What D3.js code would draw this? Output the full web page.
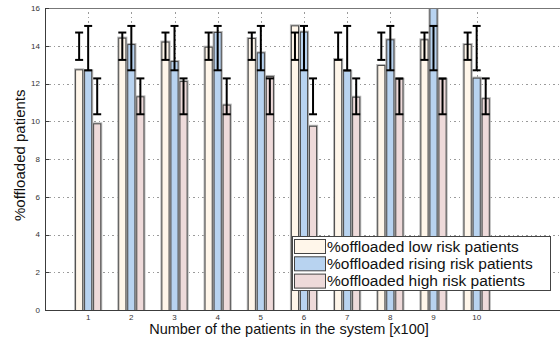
<!DOCTYPE html>
<html>
<head>
<meta charset="utf-8">
<script src="https://cdn.jsdelivr.net/npm/d3@7"></script>
<style>
  body { margin: 0; background: #fff; }
  svg { display: block; font-family: "Liberation Sans", Arial, sans-serif; }
</style>
</head>
<body>
<svg id="chart" width="560" height="338"></svg>
<script>
// data
const groups = [1, 2, 3, 4, 5, 6, 7, 8, 9, 10];
const seriesNames = ['%offloaded low risk patients', '%offloaded rising risk patients', '%offloaded high risk patients'];
const lowRisk = [12.75, 14.43, 14.22, 13.95, 14.41, 15.08, 13.3, 12.98, 14.34, 14.09];
const risingRisk = [12.7, 14.09, 13.19, 14.73, 13.65, 14.75, 12.68, 14.34, 16.6, 12.31];
const highRisk = [9.89, 11.32, 12.13, 10.88, 12.4, 9.76, 11.3, 12.25, 12.25, 11.22];
// error bar intervals [bottom, top] per series
const errLow = [13.25, 14.7];
const errRising = [12.7, 15.05];
const errHigh = [10.37, 12.27];
const yTicks = [0, 2, 4, 6, 8, 10, 12, 14, 16];

const colors = ['#fff6ea', '#b8d3f0', '#eedada'];
const values = [lowRisk, risingRisk, highRisk];
const errs = [errLow, errRising, errHigh];

const margin = { left: 45, right: -3, top: 8, bottom: 28 };
const size = { width: 560, height: 338 };

const svg = d3.select('#chart');

const x = d3.scaleLinear()
  .domain([0, 12])
  .range([margin.left, size.width - margin.right]);

const y = d3.scaleLinear()
  .domain([0, 16])
  .range([size.height - margin.bottom, margin.top]);

const sub = d3.scaleBand()
  .domain([0, 1, 2])
  .range([-14, 14])
  .padding(0.1);

svg.append('defs').append('clipPath').attr('id', 'plot')
  .append('rect')
  .attr('x', margin.left).attr('y', margin.top)
  .attr('width', size.width - margin.right - margin.left)
  .attr('height', y(0) - margin.top);

// grid
const grid = svg.append('g')
  .attr('stroke', '#9a9a9a')
  .attr('stroke-width', 1)
  .attr('stroke-dasharray', '1,3,2,3');
grid.selectAll('line.h')
  .data(yTicks.filter(d => d > 0 && d < 16))
  .enter().append('line')
  .attr('x1', margin.left).attr('x2', size.width)
  .attr('y1', d => Math.round(y(d)) + 0.5).attr('y2', d => Math.round(y(d)) + 0.5);
grid.selectAll('line.v')
  .data(groups)
  .enter().append('line')
  .attr('x1', d => Math.round(x(d)) + 0.5).attr('x2', d => Math.round(x(d)) + 0.5)
  .attr('y1', margin.top).attr('y2', y(0));

// bars
const barGroups = svg.append('g')
  .attr('clip-path', 'url(#plot)')
  .selectAll('g.bar-group')
  .data(groups)
  .enter()
  .append('g')
  .attr('transform', d => `translate(${x(d)}, 0)`);

barGroups.selectAll('rect.shadow')
  .data((d, i) => values.map((s, k) => ({ k, v: s[i] })))
  .enter()
  .append('rect')
  .attr('x', d => sub(d.k) - 1)
  .attr('y', d => y(d.v) - 1)
  .attr('width', sub.bandwidth() + 2)
  .attr('height', d => y(0) - y(d.v) + 1)
  .attr('fill', '#b5b5b5');

barGroups.selectAll('rect.bar')
  .data((d, i) => values.map((s, k) => ({ k, v: s[i] })))
  .enter()
  .append('rect')
  .attr('x', d => sub(d.k) + 0.5)
  .attr('y', d => y(d.v) + 0.5)
  .attr('width', sub.bandwidth() - 1)
  .attr('height', d => y(0) - y(d.v))
  .attr('fill', d => colors[d.k])
  .attr('stroke', '#4a4a4a')
  .attr('stroke-width', 1);

// error bars
const errG = barGroups.selectAll('g.err')
  .data(() => errs.map((e, k) => ({ k, lo: e[0], hi: e[1] })))
  .enter()
  .append('g')
  .attr('stroke', '#000')
  .attr('stroke-width', 2);
errG.append('line')
  .attr('x1', d => sub(d.k) + sub.bandwidth() / 2).attr('x2', d => sub(d.k) + sub.bandwidth() / 2)
  .attr('y1', d => y(d.lo)).attr('y2', d => y(d.hi));
errG.append('line')
  .attr('x1', d => sub(d.k) + sub.bandwidth() / 2 - 4).attr('x2', d => sub(d.k) + sub.bandwidth() / 2 + 4)
  .attr('y1', d => y(d.lo)).attr('y2', d => y(d.lo));
errG.append('line')
  .attr('x1', d => sub(d.k) + sub.bandwidth() / 2 - 4).attr('x2', d => sub(d.k) + sub.bandwidth() / 2 + 4)
  .attr('y1', d => y(d.hi)).attr('y2', d => y(d.hi));

// axes box
const axisColor = '#3c3c3c';
svg.append('line')
  .attr('x1', margin.left + 0.5).attr('x2', margin.left + 0.5)
  .attr('y1', margin.top).attr('y2', y(0))
  .attr('stroke', axisColor);
svg.append('line')
  .attr('x1', margin.left).attr('x2', size.width)
  .attr('y1', y(0) + 0.5).attr('y2', y(0) + 0.5)
  .attr('stroke', axisColor);
svg.append('line')
  .attr('x1', margin.left).attr('x2', size.width)
  .attr('y1', margin.top + 0.5).attr('y2', margin.top + 0.5)
  .attr('stroke', '#777');

// y ticks
svg.append('g')
  .selectAll('text')
  .data(yTicks)
  .enter().append('text')
  .attr('x', margin.left - 5)
  .attr('y', d => y(d))
  .attr('dy', '0.35em')
  .attr('text-anchor', 'end')
  .attr('font-size', 8)
  .attr('fill', '#333')
  .text(d => d);
svg.append('g')
  .selectAll('line')
  .data(yTicks)
  .enter().append('line')
  .attr('x1', margin.left).attr('x2', margin.left + 4)
  .attr('y1', d => Math.round(y(d)) + 0.5).attr('y2', d => Math.round(y(d)) + 0.5)
  .attr('stroke', axisColor);

// x ticks
svg.append('g')
  .selectAll('text')
  .data(groups)
  .enter().append('text')
  .attr('x', d => x(d))
  .attr('y', y(0) + 10)
  .attr('text-anchor', 'middle')
  .attr('font-size', 8)
  .attr('fill', '#333')
  .text(d => d);

// axis labels
svg.append('text')
  .attr('x', 289)
  .attr('y', 334)
  .attr('text-anchor', 'middle')
  .attr('font-size', 14.5)
  .attr('fill', '#111')
  .text('Number of the patients in the system [x100]');

svg.append('text')
  .attr('text-anchor', 'middle')
  .attr('transform', `translate(25, ${y(8.2)}) rotate(-90)`)
  .attr('font-size', 15)
  .attr('fill', '#111')
  .text('%offloaded patients');

// legend
const legend = svg.append('g').attr('transform', 'translate(292, 236)');
legend.append('rect')
  .attr('x', 0.5).attr('y', 0.5)
  .attr('width', 258).attr('height', 54)
  .attr('fill', '#fff')
  .attr('stroke', '#444');
const items = legend.selectAll('g.item')
  .data(seriesNames)
  .enter().append('g')
  .attr('transform', (d, i) => `translate(0, ${3 + i * 17.3})`);
items.append('rect')
  .attr('x', 2.5).attr('y', 0.5)
  .attr('width', 31).attr('height', 14)
  .attr('fill', (d, i) => colors[i])
  .attr('stroke', '#444');
items.append('text')
  .attr('x', 35)
  .attr('y', 12.5)
  .attr('font-size', 15.5)
  .attr('fill', '#111')
  .text(d => d);
</script>
</body>
</html>
